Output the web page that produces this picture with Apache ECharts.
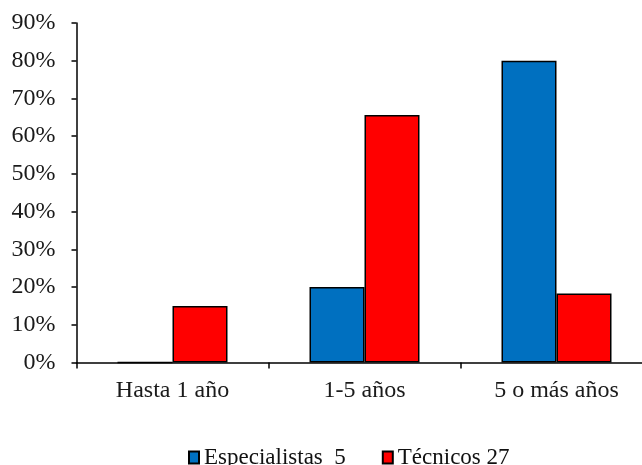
<!DOCTYPE html>
<html>
<head>
<meta charset="utf-8">
<script src="https://cdn.jsdelivr.net/npm/echarts@6/dist/echarts.min.js"></script>
<style>
html,body{margin:0;padding:0;background:#fff;overflow:hidden;width:642px;height:465px;}
#c{width:660px;height:465px;}
</style>
</head>
<body>
<div id="c"></div>
<script>
const categories = ['Hasta 1 año', '1-5 años', '5 o más años'];
const especialistas = [0, 20, 80];
const tecnicos = [15, 65.6, 18.3];
const seriesNames = ['Especialistas  5', 'Técnicos 27'];
const yTicks = {min: 0, max: 90, interval: 10};

const font = 'Liberation Serif';
const chart = echarts.init(document.getElementById('c'), null, {renderer: 'canvas'});
chart.setOption({
  animation: false,
  backgroundColor: '#ffffff',
  grid: {left: 76.5, top: 23, right: 7.5, height: 339.5, containLabel: false},
  legend: {
    left: 183, top: 441,
    icon: 'rect', itemWidth: 10, itemHeight: 12, itemGap: 36,
    textStyle: {fontFamily: font, fontSize: 23, color: '#111', padding: [0, 0, 0, 0]},
    data: seriesNames
  },
  xAxis: {
    type: 'category', data: categories,
    axisLine: {lineStyle: {color: '#000', width: 1.5}},
    axisTick: {show: true, length: 6, lineStyle: {color: '#000', width: 1.5}},
    axisLabel: {fontFamily: font, fontSize: 24, color: '#1a1a1a', margin: 16}
  },
  yAxis: {
    type: 'value', min: yTicks.min, max: yTicks.max, interval: yTicks.interval,
    axisLine: {show: true, lineStyle: {color: '#000', width: 1.5}},
    axisTick: {show: true, length: 5, lineStyle: {color: '#000', width: 1.5}},
    splitLine: {show: false},
    axisLabel: {fontFamily: font, fontSize: 24, color: '#1a1a1a', margin: 21, formatter: '{value}%'}
  },
  series: [
    {name: seriesNames[0], type: 'bar', data: especialistas, barWidth: 55, barGap: '0%',
     itemStyle: {color: '#0070C0', borderColor: '#000', borderWidth: 1.5}},
    {name: seriesNames[1], type: 'bar', data: tecnicos, barWidth: 55, barGap: '0%',
     itemStyle: {color: '#FF0000', borderColor: '#000', borderWidth: 1.5}}
  ]
});
</script>
</body>
</html>
